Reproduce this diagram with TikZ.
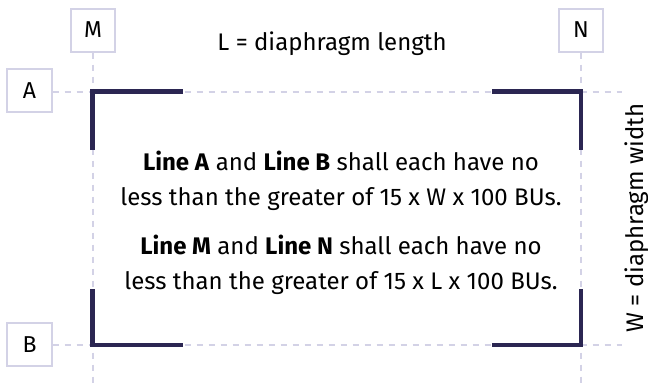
\documentclass[tikz,border=0pt]{standalone}
\usepackage{fontspec}
\setmainfont{Fira Sans}
\definecolor{guide}{HTML}{D3D2E6}
\definecolor{wall}{HTML}{2B2652}
\begin{document}
\begin{tikzpicture}[x=1bp,y=-1bp,
  labelbox/.style={draw=guide,line width=2bp,minimum width=44bp,minimum height=43bp,inner sep=0pt,font=\fontsize{23bp}{26bp}\selectfont},
  guideline/.style={draw=guide,line width=2bp,dash pattern=on 6bp off 6bp},
  wallline/.style={draw=wall,line width=4.5bp},
  txt/.style={font=\fontsize{24bp}{35bp}\selectfont,align=center,inner sep=0pt}]
\useasboundingbox (0,0) rectangle (648,383);
\fill[white] (0,0) rectangle (648,383);
% label boxes
\node[labelbox] (M) at (93,30) {M};
\node[labelbox] (N) at (581,30) {N};
\node[labelbox] (A) at (29.5,90.5) {A};
\node[labelbox] (B) at (29.5,344.5) {B};
% guide end points
\coordinate (Mend) at (92.5,383);
\coordinate (Nend) at (581,383);
\coordinate (Aend) at (622,91.5);
\coordinate (Bend) at (622,345);
\draw[guideline] (M.south -| Mend) -- (Mend);
\draw[guideline] (N.south -| Nend) -- (Nend);
\draw[guideline] (A.east |- Aend) -- (Aend);
\draw[guideline] (B.east |- Bend) -- (Bend);
% corners
\coordinate (TL) at (92.5,91.5);
\coordinate (TR) at (581,91.5);
\coordinate (BL) at (92.5,345);
\coordinate (BR) at (581,345);
\draw[wallline] (TL) ++(0,58) -- (TL) -- ++(90,0);
\draw[wallline] (TR) ++(-89,0) -- (TR) -- ++(0,58);
\draw[wallline] (BL) ++(0,-56) -- (BL) -- ++(90,0);
\draw[wallline] (BR) ++(-89,0) -- (BR) -- ++(0,-56);
% texts
\node[txt] (Ltxt) at (332,44) {L = diaphragm length};
\node[txt] (P1) at (341,181) {\textbf{Line A} and \textbf{Line B} shall each have no\\less than the greater of 15 x W x 100 BUs.};
\node[txt] (P2) at (341,265) {\textbf{Line M} and \textbf{Line N} shall each have no\\less than the greater of 15 x L x 100 BUs.};
\node[txt,rotate=90,anchor=base] (Wtxt) at (643,218) {W = diaphragm width};
\end{tikzpicture}
\end{document}
